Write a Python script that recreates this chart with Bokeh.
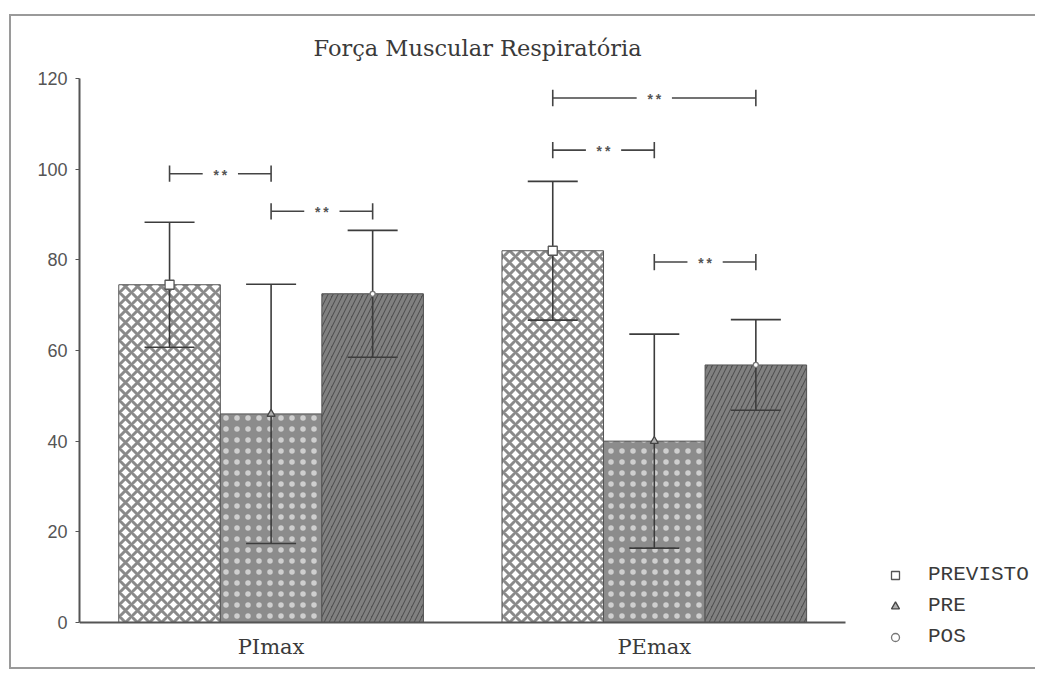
from bokeh.plotting import figure
from bokeh.models import (ColumnDataSource, Range1d, Legend, LegendItem,
                          FixedTicker, LinearAxis)
from bokeh.embed import file_html
from bokeh.resources import INLINE
from bokeh.core.properties import value

# ---------------- data ----------------
groups = ["PImax", "PEmax"]
series = ["PREVISTO", "PRE", "POS"]
previsto = [74.5, 82.0]
pre = [46.0, 40.0]
pos = [72.5, 56.8]
sd_previsto = [13.8, 15.3]
sd_pre = [28.6, 23.6]
sd_pos = [14.0, 10.0]

# significance brackets (group, from series index, to series index, height, label)
br_group = ["PImax", "PImax", "PEmax", "PEmax", "PEmax"]
br_from = [0, 1, 0, 0, 1]
br_to = [1, 2, 2, 1, 2]
br_y = [99.0, 90.7, 115.7, 104.2, 79.5]
br_label = ["**", "**", "**", "**", "**"]

title_text = "Força Muscular Respiratória"
y_ticks = [0, 20, 40, 60, 80, 100, 120]

# ---------------- styles ----------------
W = 0.265          # bar width (group units)
GAP = 0.046        # half gap around the "**" label
TICK_H = 1.8       # half height of bracket end ticks (data units)
fills = ["#ffffff", "#8c8c8c", "#4e4e4e"]
hatches = ["x", ".", "/"]
hatch_colors = ["#8a8a8a", "#cfcfcf", "#808080"]
hatch_scales = [12, 11, 10]
hatch_weights = [3.0, 0.6, 3.5]
markers = ["square", "triangle", "circle"]
marker_sizes = [9, 8, 5]
marker_fills = ["#ffffff", "#b0b0b0", "#ffffff"]
marker_lines = ["#555555", "#444444", "#777777"]
values = [previsto, pre, pos]
sds = [sd_previsto, sd_pre, sd_pos]
gidx = {g: k for k, g in enumerate(groups)}


def xoff(i):
    return (i - (len(series) - 1) / 2) * W


p = figure(x_range=Range1d(-0.5, 2.0),
           y_range=Range1d(-8.4, 120),
           width=1026, height=655,
           min_border_left=68, min_border_right=0,
           min_border_top=62, min_border_bottom=11,
           x_axis_location=None,
           output_backend="svg", toolbar_location=None,
           title=title_text)
p.styles = {"border-left": "2px solid #9a9a9a",
            "border-top": "2px solid #9a9a9a",
            "border-bottom": "2px solid #9a9a9a",
            "margin-left": "9px", "margin-top": "14px"}
p.outline_line_color = None
p.xgrid.visible = False
p.ygrid.visible = False
p.background_fill_color = "#ffffff"
p.border_fill_color = "#ffffff"

p.title.text_font = "DejaVu Serif"
p.title.text_font_size = "22.5px"
p.title.text_font_style = "normal"
p.title.text_color = "#3a3a3a"
p.title.align = "left"
p.title.vertical_align = "middle"
p.title.offset = 234
p.title.standoff = 34

marker_renderers = []
for i, name in enumerate(series):
    xs = [gidx[g] + xoff(i) for g in groups]
    src = ColumnDataSource(dict(
        x=xs, top=values[i],
        upper=[v + s for v, s in zip(values[i], sds[i])],
        lower=[v - s for v, s in zip(values[i], sds[i])],
    ))
    p.vbar(x="x", top="top", width=W, bottom=0, source=src,
           fill_color=fills[i], hatch_pattern=hatches[i],
           hatch_color=hatch_colors[i], hatch_scale=hatch_scales[i],
           hatch_weight=hatch_weights[i],
           line_color="#555555", line_width=1)
    p.segment(x0="x", y0="lower", x1="x", y1="upper", source=src,
              line_color="#3c3c3c", line_width=1.6)
    p.scatter(x="x", y="upper", marker="dash", size=50, source=src,
              line_color="#3c3c3c", line_width=1.6)
    p.scatter(x="x", y="lower", marker="dash", size=50, source=src,
              line_color="#3c3c3c", line_width=1.6)
    r = p.scatter(x="x", y="top", marker=markers[i], size=marker_sizes[i],
                  source=src, fill_color=marker_fills[i],
                  line_color=marker_lines[i], line_width=1.3)
    marker_renderers.append(r)

# significance brackets
seg_x0, seg_x1, seg_y = [], [], []
tick_x, tick_y0, tick_y1 = [], [], []
lab_x = []
for g, a, b, y in zip(br_group, br_from, br_to, br_y):
    xa, xb = gidx[g] + xoff(a), gidx[g] + xoff(b)
    m = (xa + xb) / 2
    seg_x0 += [xa, m + GAP]
    seg_x1 += [m - GAP, xb]
    seg_y += [y, y]
    tick_x += [xa, xb]
    tick_y0 += [y - TICK_H, y - TICK_H]
    tick_y1 += [y + TICK_H, y + TICK_H]
    lab_x.append(m)

p.segment(x0=seg_x0, y0=seg_y, x1=seg_x1, y1=seg_y,
          line_color="#444444", line_width=1.6)
p.segment(x0=tick_x, y0=tick_y0, x1=tick_x, y1=tick_y1,
          line_color="#444444", line_width=1.6)
p.text(x=lab_x, y=br_y, text=br_label, text_font=value("Liberation Mono"),
       text_font_size="14px", text_font_style="bold", text_align="center",
       text_baseline="middle", text_color="#555555", y_offset=3)

# axes
p.yaxis.ticker = FixedTicker(ticks=y_ticks)
p.yaxis.bounds = (0, 120)
p.yaxis.axis_line_color = "#555555"
p.yaxis.axis_line_width = 2
p.yaxis.major_tick_line_color = "#555555"
p.yaxis.major_tick_out = 4
p.yaxis.major_tick_in = 0
p.yaxis.minor_tick_line_color = None
p.yaxis.major_label_text_font = "Liberation Sans"
p.yaxis.major_label_text_font_size = "18px"
p.yaxis.major_label_text_color = "#555555"
p.yaxis.major_label_standoff = 8

xaxis = LinearAxis(fixed_location=0,
                   bounds=(-0.5, len(groups) - 0.5),
                   ticker=FixedTicker(ticks=list(range(len(groups)))),
                   major_label_overrides={k: g for k, g in enumerate(groups)},
                   axis_line_color="#555555", axis_line_width=2,
                   major_tick_line_color=None, minor_tick_line_color=None,
                   major_label_text_font="DejaVu Serif",
                   major_label_text_font_size="21px",
                   major_label_text_color="#3a3a3a",
                   major_label_standoff=7)
p.add_layout(xaxis, "below")

legend = Legend(items=[LegendItem(label=s, renderers=[r])
                       for s, r in zip(series, marker_renderers)],
                location=(806, 12), orientation="vertical",
                border_line_color=None, background_fill_alpha=0,
                label_text_font="Liberation Mono",
                label_text_font_size="21px", label_text_color="#3a3a3a",
                glyph_width=20, glyph_height=20, label_height=20,
                spacing=8, padding=0, margin=0, label_standoff=23)
p.add_layout(legend)

open("out.html", "w").write(file_html(p, INLINE))
